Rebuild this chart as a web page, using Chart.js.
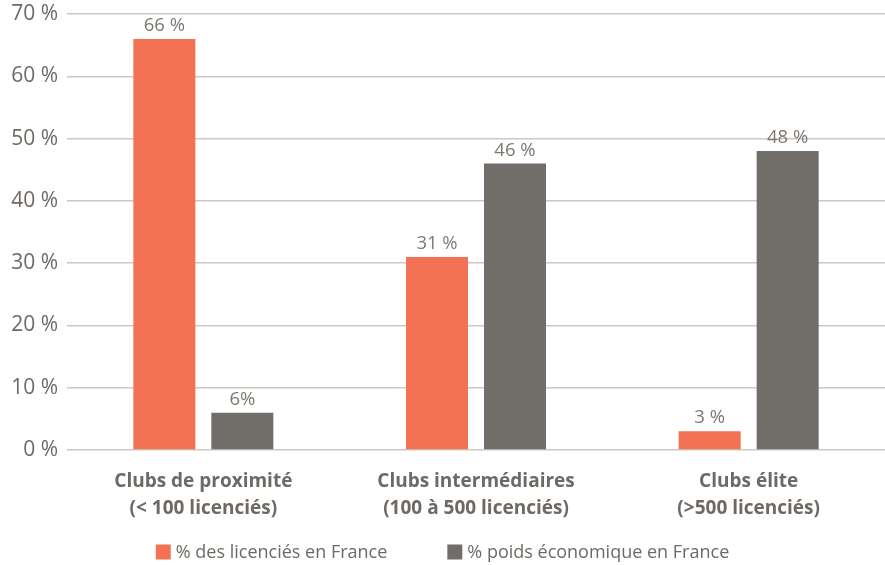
<!DOCTYPE html>
<html>
<head>
<meta charset="utf-8">
<script src="https://cdn.jsdelivr.net/npm/chart.js@4"></script>
<style>
    html, body { margin: 0; padding: 0; background: #ffffff; }
    #wrap { width: 885px; height: 565px; }
</style>
</head>
<body>
<div id="wrap"><canvas id="chart" width="885" height="565"></canvas></div>
<script>
// Categories and values
const CATEGORIES = [
    ['Clubs de proximité', '(< 100 licenciés)'],
    ['Clubs intermédiaires', '(100 à 500 licenciés)'],
    ['Clubs élite', '(>500 licenciés)']
];
const LICENCIES = [66, 31, 3];
const POIDS = [6, 46, 48];
const LICENCIES_LABELS = ['66 %', '31 %', '3 %'];
const POIDS_LABELS = ['6%', '46 %', '48 %'];
const SERIES_NAMES = ['% des licenciés en France', '% poids économique en France'];
const Y_TICKS = [0, 10, 20, 30, 40, 50, 60, 70];

const ORANGE = '#f37254';
const GREY = '#716d68';
const TEXT = '#6e6964';
const FONT = "'Open Sans', sans-serif";

// Draw the value above each bar
const valueLabels = {
    id: 'valueLabels',
    afterDatasetsDraw(chart) {
        const ctx = chart.ctx;
        ctx.save();
        ctx.font = '18.5px ' + FONT;
        ctx.fillStyle = '#7d7873';
        ctx.textAlign = 'center';
        ctx.textBaseline = 'bottom';
        chart.data.datasets.forEach((ds, i) => {
            chart.getDatasetMeta(i).data.forEach((bar, j) => {
                ctx.fillText(ds.valueLabels[j], bar.x, bar.y - 4);
            });
        });
        ctx.restore();
    }
};

// Legend drawn at the bottom with squares
const bottomLegend = {
    id: 'bottomLegend',
    afterDraw(chart) {
        const ctx = chart.ctx;
        const box = 15, gapText = 5, gapItems = 60;
        ctx.save();
        ctx.font = '18px ' + FONT;
        ctx.textBaseline = 'middle';
        const widths = chart.data.datasets.map(ds => box + gapText + ctx.measureText(ds.label).width);
        const total = widths.reduce((a, b) => a + b, 0) + gapItems * (widths.length - 1);
        let x = (chart.width - total) / 2;
        const y = 552;
        chart.data.datasets.forEach((ds, i) => {
            ctx.fillStyle = ds.backgroundColor;
            ctx.fillRect(x, y - box / 2, box, box);
            ctx.fillStyle = TEXT;
            ctx.fillText(ds.label, x + box + gapText, y + 1);
            x += widths[i] + gapItems;
        });
        ctx.restore();
    }
};

new Chart(document.getElementById('chart'), {
    type: 'bar',
    data: {
        labels: CATEGORIES,
        datasets: [
            {
                label: SERIES_NAMES[0],
                data: LICENCIES,
                valueLabels: LICENCIES_LABELS,
                backgroundColor: ORANGE,
                categoryPercentage: 0.572,
                barPercentage: 0.795
            },
            {
                label: SERIES_NAMES[1],
                data: POIDS,
                valueLabels: POIDS_LABELS,
                backgroundColor: GREY,
                categoryPercentage: 0.572,
                barPercentage: 0.795
            }
        ]
    },
    options: {
        responsive: false,
        animation: false,
        layout: { padding: { top: 14, right: 0, bottom: 35, left: 0 } },
        plugins: {
            legend: { display: false },
            tooltip: { enabled: false }
        },
        scales: {
            x: {
                grid: { display: false },
                border: { display: false },
                ticks: {
                    color: TEXT,
                    padding: 10,
                    font: { family: FONT, size: 19, weight: 'bold', lineHeight: 1.42 }
                },
                afterFit(scale) { scale.height = 80; }
            },
            y: {
                min: 0,
                max: 70,
                afterBuildTicks(scale) { scale.ticks = Y_TICKS.map(v => ({ value: v })); },
                grid: { color: '#cdc8c3', lineWidth: 1.5, drawTicks: false },
                border: { display: false },
                ticks: {
                    color: TEXT,
                    padding: 9,
                    font: { family: FONT, size: 21 },
                    callback: v => v + ' %'
                },
                afterFit(scale) {
                    scale.width = 67;
                    scale.paddingTop = 0;
                    scale.paddingBottom = 0;
                }
            }
        }
    },
    plugins: [valueLabels, bottomLegend]
});
</script>
</body>
</html>
